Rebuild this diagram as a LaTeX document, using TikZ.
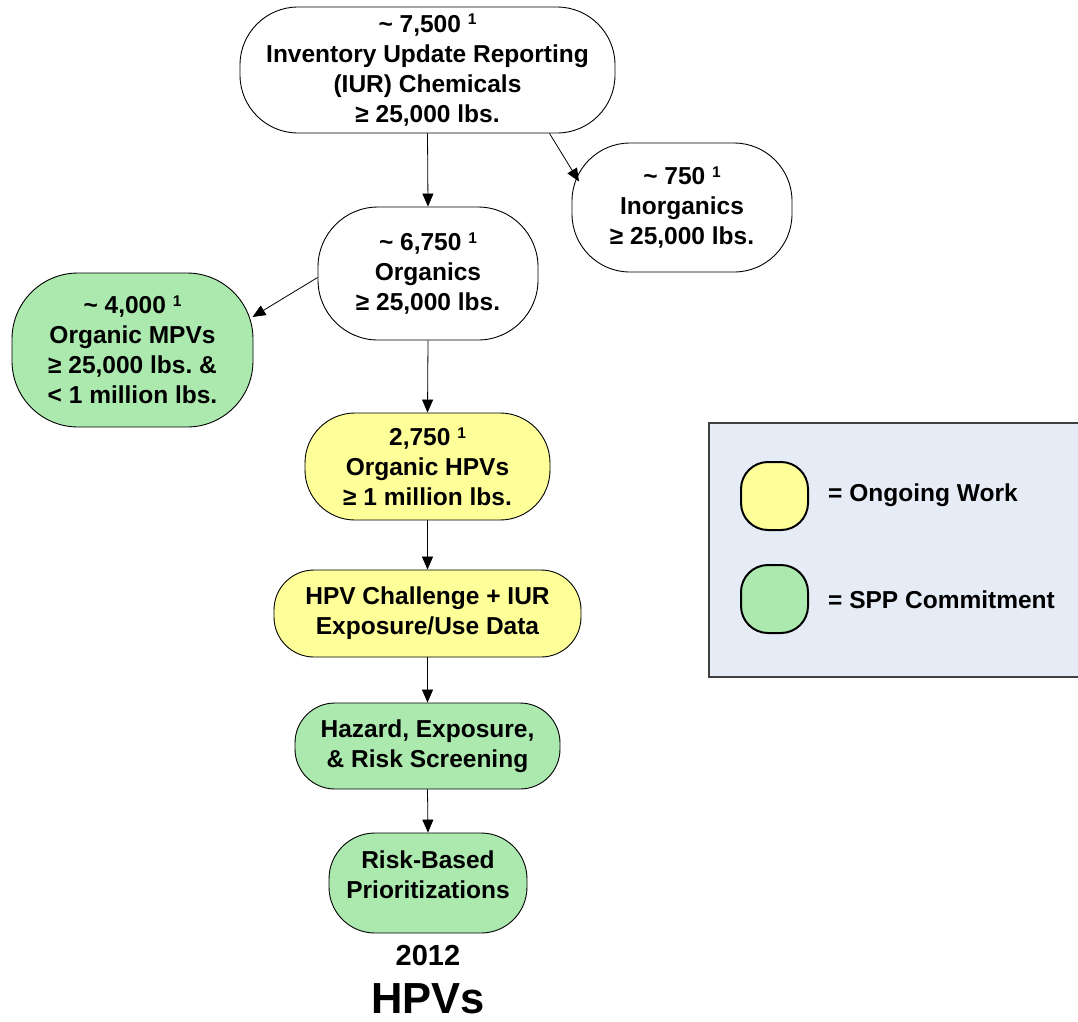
\documentclass[tikz,border=0pt]{standalone}
\usepackage{fontspec}
\setmainfont{Liberation Sans}
\usetikzlibrary{arrows.meta,calc}
\definecolor{gfill}{RGB}{171,233,175}
\definecolor{yfill}{RGB}{255,255,153}
\definecolor{lgbg}{RGB}{230,236,246}
\newcommand\fnone{\raisebox{0.55ex}{\fontsize{15.5}{15.5}\selectfont 1}}
\frenchspacing
\begin{document}
\begin{tikzpicture}[x=1pt,y=-1pt,
 box/.style={draw=black, line width=0.9pt, align=center, inner sep=0pt,
   font=\fontsize{24.5}{30}\selectfont\bfseries},
 green/.style={fill=gfill},
 yellow/.style={fill=yfill},
 arr/.style={-{Triangle[length=13pt,width=11pt]}, line width=0.8pt},
 legshape/.style={draw=black, line width=2pt, minimum width=67pt, minimum height=68pt, rounded corners=27pt, inner sep=0pt},
 legtext/.style={anchor=west, inner sep=0pt, font=\fontsize{24.5}{30}\selectfont\bfseries}]
\useasboundingbox (0,0) rectangle (1078,1021);
% legend
\draw[fill=lgbg, draw=black!75, line width=1.3pt] (709,423) rectangle (1082,677);
\node[legshape, yellow] (ly) at (774.5,496) {};
\node[legshape, green] (lg) at (774.5,599) {};
\node[legtext] (lyt) at (828,495) {= Ongoing Work};
\node[legtext] (lgt) at (828,600) {= SPP Commitment};
% nodes
\node[box, minimum width=375pt, minimum height=126pt, rounded corners=58pt] (iur) at (427.5,70)
 {\textasciitilde{} 7,500 \fnone\\Inventory Update Reporting\\(IUR) Chemicals\\≥ 25,000 lbs.};
\node[box, minimum width=220pt, minimum height=129pt, rounded corners=58pt] (inorg) at (682,207.5)
 {\textasciitilde{} 750 \fnone\\Inorganics\\≥ 25,000 lbs.};
\node[box, minimum width=220pt, minimum height=133pt, rounded corners=60pt] (org) at (428,273.5)
 {\textasciitilde{} 6,750 \fnone\\Organics\\≥ 25,000 lbs.};
\node[box, green, minimum width=241pt, minimum height=154pt, rounded corners=66pt] (mpv) at (132.5,350)
 {\textasciitilde{} 4,000 \fnone\\Organic MPVs\\≥ 25,000 lbs. \&\\< 1 million lbs.};
\node[box, yellow, minimum width=245pt, minimum height=107pt, rounded corners=50pt] (hpv) at (427.5,466.5)
 {2,750 \fnone\\Organic HPVs\\≥ 1 million lbs.};
\node[box, yellow, minimum width=307pt, minimum height=87pt, rounded corners=40pt] (chal) at (427.5,613.5)
 {HPV Challenge + IUR\\Exposure/Use Data};
\node[box, green, minimum width=265pt, minimum height=86pt, rounded corners=40pt] (haz) at (427.5,746)
 {Hazard, Exposure,\\\& Risk Screening};
\node[box, green, minimum width=198pt, minimum height=100pt, rounded corners=46pt] (risk) at (428,883)
 {Risk-Based\\Prioritizations\rule[-17pt]{0pt}{1pt}};
\node[font=\fontsize{29}{34}\selectfont\bfseries, inner sep=0pt] (y2012) at (428,955) {2012};
\node[font=\fontsize{43.5}{50}\selectfont\bfseries, inner sep=0pt] (hpvs) at (428,999) {HPVs};
% connectors
\draw[arr] (iur.south) -- (org.north);
\draw[arr] ([shift={(122,0)}]iur.south) -- ([shift={(-103,-26)}]inorg.center);
\draw[arr] ([shift={(0,4)}]org.west) -- ([shift={(120,-33)}]mpv.center);
\draw[arr] (org.south) -- (hpv.north);
\draw[arr] (hpv.south) -- (chal.north);
\draw[arr] (chal.south) -- (haz.north);
\draw[arr] (haz.south) -- (risk.north);
\end{tikzpicture}
\end{document}
